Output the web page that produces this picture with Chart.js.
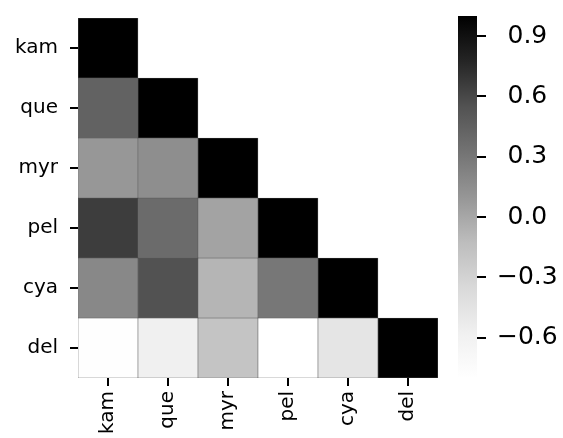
<!DOCTYPE html>
<html>
<head>
<meta charset="utf-8">
<script src="https://cdn.jsdelivr.net/npm/chart.js@4"></script>
<style>
  body { margin: 0; background: #fff; }
  #wrap { position: relative; width: 563px; height: 438px; }
  canvas { position: absolute; top: 0; }
</style>
</head>
<body>
<div id="wrap">
  <canvas id="heat" width="440" height="438" style="left:0"></canvas>
  <canvas id="cbar" width="123" height="438" style="left:440px; width:123px; height:438px"></canvas>
</div>
<script>
const names = ['kam', 'que', 'myr', 'pel', 'cya', 'del']

// lower triangle of the correlation matrix, one row per variable
const rowKam = [1]
const rowQue = [0.44, 1]
const rowMyr = [0.095, 0.15, 1]
const rowPel = [0.655, 0.38, 0.025, 1]
const rowCya = [0.19, 0.55, -0.08, 0.30, 1]
const rowDel = [-0.78, -0.575, -0.18, -0.8, -0.467, 1]
const corrRows = [rowKam, rowQue, rowMyr, rowPel, rowCya, rowDel]

const vmin = -0.8
const vmax = 1.0
const cbarTicks = [-0.6, -0.3, 0.0, 0.3, 0.6, 0.9]

// matplotlib "Greys" stops
const greys = [255, 240, 217, 189, 150, 115, 82, 37, 0]

const greyAt = t => {
  t = Math.min(1, Math.max(0, t))
  const p = t * (greys.length - 1)
  const i = Math.min(greys.length - 2, Math.floor(p))
  const g = Math.round(greys[i] + (greys[i + 1] - greys[i]) * (p - i))
  return `rgb(${g},${g},${g})`
}
const colorFor = v => greyAt((v - vmin) / (vmax - vmin))

const font = { family: 'DejaVu Sans', size: 20 }

// drop the extra room Chart.js reserves for half-labels at the ends
const noPad = s => { s.paddingTop = 0; s.paddingBottom = 0; s.paddingLeft = 0; s.paddingRight = 0 }
const centerTicks = s => { s.ticks = names.map((n, i) => ({ value: i + 0.5 })) }

let datasets = []
corrRows.forEach((row, r) => {
  datasets.push({
    data: row.map((v, c) => ({ x: c + 0.5, y: [r, r + 1] })),
    backgroundColor: row.map(v => colorFor(v)),
    borderColor: 'rgba(0,0,0,0.6)',
    borderWidth: 0.6,
    borderSkipped: false,
    grouped: false,
    barPercentage: 1,
    categoryPercentage: 1
  })
})

// x tick marks under each column centre
const xTickMarks = {
  id: 'xTickMarks',
  afterDraw(chart) {
    const x = chart.scales.x
    const c = chart.ctx
    const top = chart.chartArea.bottom
    c.save()
    c.fillStyle = '#000'
    x.ticks.forEach(t => {
      const px = x.getPixelForValue(t.value)
      c.fillRect(px - 1, top, 2, 8)
    })
    c.restore()
  }
}

new Chart(document.getElementById('heat'), {
  type: 'bar',
  data: { datasets: datasets },
  options: {
    responsive: false,
    animation: false,
    layout: { padding: { top: 18, right: 2, left: 0, bottom: 0 } },
    plugins: { legend: { display: false }, tooltip: { enabled: false } },
    scales: {
      x: {
        type: 'linear',
        min: 0,
        max: 6,
        offset: false,
        border: { display: false },
        grid: { display: false },
        ticks: {
          font: font, color: '#000', minRotation: 90, maxRotation: 90, padding: 5, autoSkip: false,
          callback: (v, i) => names[i]
        },
        afterBuildTicks: centerTicks,
        afterFit: s => { s.height = 60; noPad(s) }
      },
      y: {
        type: 'linear',
        min: 0,
        max: 6,
        reverse: true,
        border: { display: false },
        grid: { drawOnChartArea: false, drawTicks: true, tickLength: 8, color: '#000', lineWidth: 2 },
        ticks: {
          font: font, color: '#000', padding: 12, autoSkip: false,
          callback: (v, i) => names[i]
        },
        afterBuildTicks: centerTicks,
        afterFit: s => { s.width = 78; noPad(s) }
      }
    }
  },
  plugins: [xTickMarks]
})

new Chart(document.getElementById('cbar'), {
  type: 'bar',
  data: {
    labels: ['cb'],
    datasets: [{
      data: [[vmin, vmax]],
      backgroundColor: ctx => {
        const chart = ctx.chart
        if (!chart.chartArea) return '#888'
        const y = chart.scales.y
        const g = chart.ctx.createLinearGradient(0, y.getPixelForValue(vmin), 0, y.getPixelForValue(vmax))
        greys.forEach((v, i) => g.addColorStop(i / (greys.length - 1), `rgb(${v},${v},${v})`))
        return g
      },
      borderWidth: 0,
      barPercentage: 1,
      categoryPercentage: 1
    }]
  },
  options: {
    responsive: false,
    animation: false,
    layout: { padding: { top: 16, left: 18, right: 0, bottom: 60 } },
    plugins: { legend: { display: false }, tooltip: { enabled: false } },
    scales: {
      x: { display: false },
      y: {
        position: 'right',
        min: vmin,
        max: vmax,
        border: { display: false },
        grid: { drawOnChartArea: false, drawTicks: true, tickLength: 9, color: '#000', lineWidth: 2 },
        ticks: {
          font: { family: 'DejaVu Sans', size: 25 }, color: '#000', padding: 11,
          crossAlign: 'center',
          callback: v => v.toFixed(1).replace('-', '\u2212')
        },
        afterBuildTicks: s => { s.ticks = cbarTicks.map(v => ({ value: v })) },
        afterFit: s => { s.width = 86; noPad(s) }
      }
    }
  }
})
</script>
</body>
</html>
